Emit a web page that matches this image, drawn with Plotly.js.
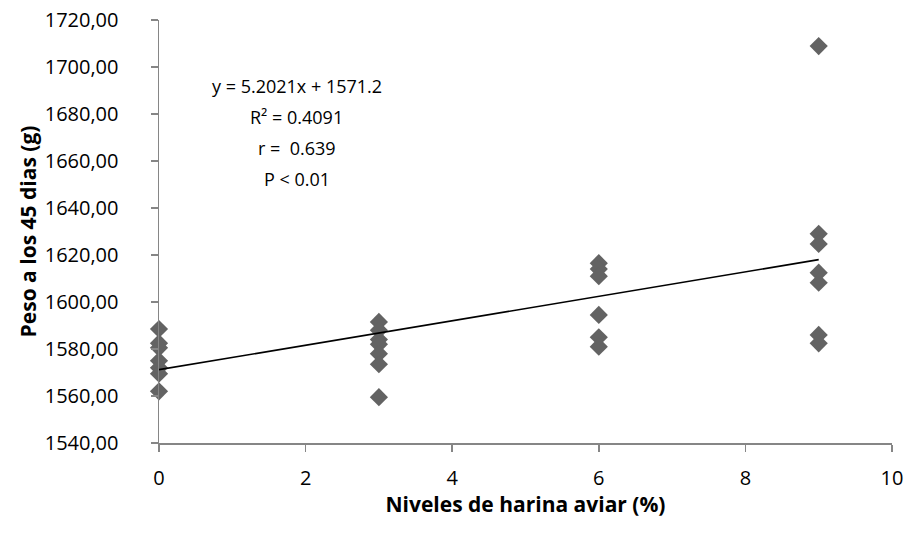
<!DOCTYPE html>
<html>
<head>
<meta charset="utf-8">
<script src="https://cdn.plot.ly/plotly-3.0.1.min.js"></script>
<style>html,body{margin:0;padding:0;background:#fff;}#chart{width:907px;height:533px;}</style>
</head>
<body>
<div id="chart"></div>
<script>
// Data
const nivel0 = [1588.5, 1582.5, 1580.5, 1575.0, 1572.0, 1569.5, 1562.0];
const nivel3 = [1591.5, 1588.0, 1584.0, 1582.0, 1578.0, 1573.5, 1559.5];
const nivel6 = [1616.5, 1614.0, 1611.0, 1594.5, 1585.0, 1581.0];
const nivel9 = [1708.9, 1629.0, 1624.7, 1612.5, 1608.2, 1586.0, 1582.4];
const niveles = [0, 3, 6, 9];
const slope = 5.2021;
const intercept = 1571.2;
const statLines = ["y = 5.2021x + 1571.2", "R² = 0.4091", "r =  0.639", "P < 0.01"];
const xTicks = [0, 2, 4, 6, 8, 10];
const yTicks = [1540, 1560, 1580, 1600, 1620, 1640, 1660, 1680, 1700, 1720];
const yTickText = ["1540,00","1560,00","1580,00","1600,00","1620,00","1640,00","1660,00","1680,00","1700,00","1720,00"];

const groups = [nivel0, nivel3, nivel6, nivel9];
const xs = [], ys = [];
groups.forEach((g, i) => g.forEach(v => { xs.push(niveles[i]); ys.push(v); }));

const fitX = [niveles[0], niveles[niveles.length - 1]];
const fitY = fitX.map(x => slope * x + intercept);

const font = "Open Sans, Noto Sans, sans-serif";
const axisColor = "#868686";

const traces = [
  {x: xs, y: ys, type: "scatter", mode: "markers", cliponaxis: false,
   marker: {symbol: "diamond", size: 14, color: "#636363", line: {width: 0}},
   hoverinfo: "x+y", showlegend: false},
  {x: fitX, y: fitY, type: "scatter", mode: "lines", cliponaxis: false,
   line: {color: "#000000", width: 1.6}, hoverinfo: "skip", showlegend: false}
];

const layout = {
  width: 907, height: 533,
  margin: {l: 159, r: 15, t: 20, b: 90},
  paper_bgcolor: "#ffffff", plot_bgcolor: "#ffffff",
  showlegend: false,
  font: {family: font, size: 18, color: "#000000"},
  xaxis: {
    range: [0, 10], tickvals: xTicks, ticktext: xTicks.map(String),
    showgrid: false, zeroline: false, showline: true, linecolor: axisColor, linewidth: 1.5,
    ticks: "outside", ticklen: 7, tickcolor: axisColor, tickwidth: 1.5,
    ticklabelstandoff: 9,
    tickfont: {family: font, size: 20, color: "#000"},
    title: {text: "<b>Niveles de harina aviar (%)</b>", font: {family: font, size: 21, color: "#000"}, standoff: 8}
  },
  yaxis: {
    range: [1540, 1720], tickvals: yTicks, ticktext: yTickText,
    showgrid: false, zeroline: false, showline: true, linecolor: axisColor, linewidth: 1.5,
    ticks: "outside", ticklen: 7, tickcolor: axisColor, tickwidth: 1.5,
    ticklabelstandoff: 28,
    tickfont: {family: font, size: 20, color: "#000"},
    title: {text: "<b>Peso a los 45 dias (g)</b>", font: {family: font, size: 21, color: "#000"}, standoff: 2}
  },
  annotations: statLines.map((t, i) => ({
    text: t, x: 1.88, y: 1692 - i * 13.2, xref: "x", yref: "y",
    showarrow: false, xanchor: "center", yanchor: "middle",
    font: {family: font, size: 18, color: "#000"}
  }))
};

Plotly.newPlot("chart", traces, layout, {displayModeBar: false, staticPlot: true});
</script>
</body>
</html>
